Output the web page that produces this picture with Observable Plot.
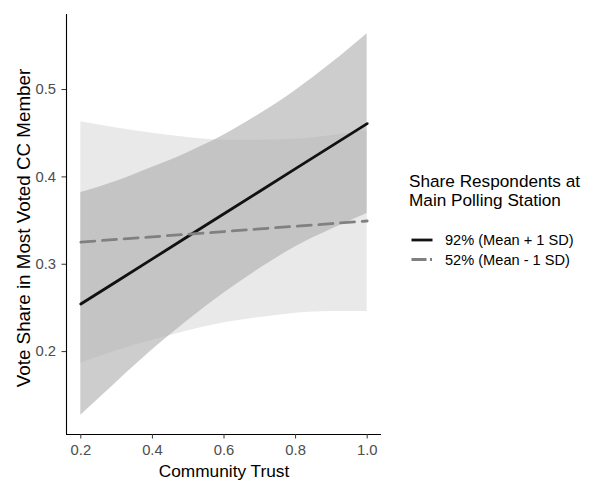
<!DOCTYPE html>
<html><head><meta charset="utf-8">
<script src="https://cdn.jsdelivr.net/npm/d3@7"></script>
<script src="https://cdn.jsdelivr.net/npm/@observablehq/plot@0.6"></script>
<style>body{margin:0;background:#fff;font-family:"Liberation Sans",Arial,sans-serif}</style>
</head><body><div id="chart"></div>
<script>
// Data
const trust   = [0.2, 0.3, 0.4, 0.5, 0.6, 0.7, 0.8, 0.9, 1.0];
const highFit = [0.2545, 0.2803, 0.3061, 0.3320, 0.3578, 0.3836, 0.4094, 0.4352, 0.4610];
const highLo  = [0.127, 0.165, 0.202, 0.236, 0.267, 0.295, 0.320, 0.340, 0.358];
const highHi  = [0.382, 0.395, 0.411, 0.428, 0.448, 0.472, 0.499, 0.530, 0.564];
const lowFit  = [0.3254, 0.3284, 0.3314, 0.3344, 0.3374, 0.3405, 0.3435, 0.3465, 0.3495];
const lowLo   = [0.187, 0.201, 0.213, 0.224, 0.233, 0.239, 0.244, 0.246, 0.246];
const lowHi   = [0.463, 0.456, 0.450, 0.445, 0.442, 0.442, 0.443, 0.447, 0.453];
const xTicks = [0.2, 0.4, 0.6, 0.8, 1.0];
const yTicks = [0.2, 0.3, 0.4, 0.5];
const seriesLabels = ["92% (Mean + 1 SD)", "52% (Mean - 1 SD)"];
const legendTitle = ["Share Respondents at", "Main Polling Station"];
const xTitle = "Community Trust";
const yTitle = "Vote Share in Most Voted CC Member";
const xDomain = [0.16, 1.04];
const yDomain = [0.1051, 0.5859];

const high = trust.map((x, i) => ({x, fit: highFit[i], lo: highLo[i], hi: highHi[i]}));
const low  = trust.map((x, i) => ({x, fit: lowFit[i], lo: lowLo[i], hi: lowHi[i]}));

const font = '"Liberation Sans", Arial, sans-serif';
const dash = "14,7.7";

const plot = Plot.plot({
  width: 594, height: 480,
  marginLeft: 66, marginRight: 213, marginTop: 14, marginBottom: 46,
  x: {domain: xDomain},
  y: {domain: yDomain},
  style: {fontFamily: font, background: "white"},
  marks: [
    Plot.areaY(high, {x: "x", y1: "lo", y2: "hi", fill: "#aaaaaa", fillOpacity: 0.59, curve: "monotone-x"}),
    Plot.areaY(low,  {x: "x", y1: "lo", y2: "hi", fill: "#aaaaaa", fillOpacity: 0.26, curve: "monotone-x"}),
    Plot.line(high, {x: "x", y: "fit", stroke: "#111", strokeWidth: 2.8}),
    Plot.line(low,  {x: "x", y: "fit", stroke: "#808080", strokeWidth: 2.8, strokeDasharray: dash}),
    Plot.ruleX([xDomain[0]], {stroke: "black", strokeWidth: 1.1}),
    Plot.ruleY([yDomain[0]], {stroke: "black", strokeWidth: 1.1}),
    Plot.axisX(xTicks, {tickFormat: d3.format(".1f"), tickSize: 4.5, tickPadding: 5, fontSize: 14.8, stroke: "#333", fill: "#4d4d4d", label: null}),
    Plot.axisY(yTicks, {tickFormat: d3.format(".1f"), tickSize: 4.5, tickPadding: 6, fontSize: 14.8, stroke: "#333", fill: "#4d4d4d", label: null}),
    Plot.text([xTitle], {frameAnchor: "bottom", textAnchor: "middle", lineAnchor: "bottom", dy: 42, fontSize: 17.3, fill: "black", text: d => d}),
    Plot.text([yTitle], {frameAnchor: "left", textAnchor: "middle", lineAnchor: "middle", dx: -43, dy: 3.5, rotate: -90, fontSize: 18.8, fill: "black", text: d => d})
  ]
});
document.getElementById("chart").appendChild(plot);

// Legend to the right of the panel
const svg = d3.select(plot);
const lg = svg.append("g").attr("font-family", font).attr("text-anchor", "start");
lg.selectAll("text.title").data(legendTitle).join("text")
  .attr("class", "title")
  .attr("x", 409).attr("y", (d, i) => 186.5 + i * 19.5)
  .attr("font-size", 17.2).attr("fill", "black").text(d => d);
const keyStyles = [{stroke: "#111", dash: null}, {stroke: "#808080", dash: "15,3.5,2,10"}];
const items = lg.selectAll("g.item").data(seriesLabels).join("g")
  .attr("class", "item")
  .attr("transform", (d, i) => `translate(0,${240 + i * 19.5})`);
items.append("line").attr("x1", 411.5).attr("x2", 432.5).attr("y1", 0).attr("y2", 0)
  .attr("stroke", (d, i) => keyStyles[i].stroke).attr("stroke-width", 2.8)
  .attr("stroke-dasharray", (d, i) => keyStyles[i].dash);
items.append("text").attr("x", 445).attr("y", 5)
  .attr("font-size", 14.6).attr("fill", "black").text(d => d);
</script></body></html>
